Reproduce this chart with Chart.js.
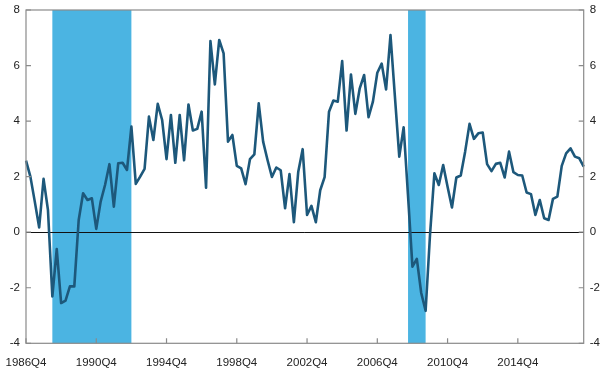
<!DOCTYPE html>
<html>
<head>
<meta charset="utf-8">
<script src="https://cdn.jsdelivr.net/npm/chart.js@4/dist/chart.umd.min.js"></script>
<style>
  body { margin: 0; background: #fff; }
  #wrap { width: 608px; height: 375px; }
</style>
</head>
<body>
<div id="wrap"><canvas id="growthChart"></canvas></div>
<script>
// quarterly values, 1986Q4 onwards
const growth = [
    2.58, 2.0, 1.1, 0.17, 1.92, 0.8, -2.31, -0.61, -2.55, -2.46,
    -1.95, -1.95, 0.44, 1.4, 1.16, 1.22, 0.12, 1.1, 1.7, 2.45,
    0.92, 2.48, 2.5, 2.24, 3.8, 1.74, 2.0, 2.28, 4.16, 3.32,
    4.62, 4.04, 2.63, 4.22, 2.5, 4.22, 2.59, 4.6, 3.66, 3.72,
    4.34, 1.6, 6.88, 5.32, 6.92, 6.44, 3.26, 3.5, 2.39, 2.3,
    1.73, 2.63, 2.8, 4.64, 3.26, 2.6, 1.99, 2.33, 2.23, 0.86,
    2.09, 0.36, 2.18, 2.99, 0.62, 0.95, 0.36, 1.51, 1.98, 4.34,
    4.74, 4.7, 6.16, 3.66, 5.68, 4.26, 5.18, 5.66, 4.14, 4.7,
    5.74, 6.07, 5.14, 7.1, 4.9, 2.72, 3.78, 1.3, -1.24, -0.96,
    -2.19, -2.83, -0.1, 2.12, 1.7, 2.42, 1.64, 0.89, 1.97, 2.04,
    2.9, 3.9, 3.36, 3.56, 3.59, 2.45, 2.2, 2.46, 2.5, 1.97,
    2.9, 2.16, 2.06, 2.04, 1.43, 1.37, 0.62, 1.16, 0.5, 0.44,
    1.2, 1.28, 2.39, 2.84, 3.02, 2.72, 2.66, 2.36
];

const firstYear = 1986;
const firstQuarter = 4;
const quarters = growth.map((_, i) => {
    const q = firstQuarter - 1 + i;
    return (firstYear + Math.floor(q / 4)) + 'Q' + (q % 4 + 1);
});

const xTickLabels = ['1986Q4', '1990Q4', '1994Q4', '1998Q4', '2002Q4', '2006Q4', '2010Q4', '2014Q4'];
const yTicks = [-4, -2, 0, 2, 4, 6, 8];

// shaded periods (start, end)
const recessions = [['1988Q2', '1992Q4'], ['2008Q3', '2009Q3']];

const bandColor = '#4bb4e2';
const lineColor = '#1d587b';
const frameColor = '#8a8a8a';
const fontSpec = { family: '"Liberation Sans", Arial, sans-serif', size: 11.5 };

// bands, zero line, frame and inward tick marks
const decorations = {
    id: 'decorations',
    beforeDatasetsDraw(chart) {
        const { ctx, chartArea: a, scales } = chart;
        ctx.save();
        ctx.fillStyle = bandColor;
        recessions.forEach(([from, to]) => {
            const x0 = scales.x.getPixelForValue(quarters.indexOf(from));
            const x1 = scales.x.getPixelForValue(quarters.indexOf(to));
            ctx.fillRect(x0, a.top, x1 - x0, a.bottom - a.top);
        });
        const y0 = Math.round(scales.y.getPixelForValue(0)) + 0.5;
        ctx.strokeStyle = '#111';
        ctx.lineWidth = 1;
        ctx.beginPath();
        ctx.moveTo(a.left, y0);
        ctx.lineTo(a.right, y0);
        ctx.stroke();
        ctx.restore();
    },
    afterDatasetsDraw(chart) {
        const { ctx, chartArea: a, scales } = chart;
        const len = 5;
        ctx.save();
        ctx.strokeStyle = frameColor;
        ctx.lineWidth = 1.2;
        ctx.strokeRect(a.left, a.top, a.right - a.left, a.bottom - a.top);
        ctx.beginPath();
        yTicks.forEach(v => {
            const py = scales.y.getPixelForValue(v);
            ctx.moveTo(a.left, py);
            ctx.lineTo(a.left + len, py);
            const py2 = scales.y2.getPixelForValue(v);
            ctx.moveTo(a.right, py2);
            ctx.lineTo(a.right - len, py2);
        });
        xTickLabels.forEach(l => {
            const px = scales.x.getPixelForValue(quarters.indexOf(l));
            ctx.moveTo(px, a.bottom);
            ctx.lineTo(px, a.bottom - len);
        });
        ctx.stroke();
        ctx.restore();
    }
};

const yAxis = (position, width) => ({
    type: 'linear',
    position: position,
    display: true,
    min: -4,
    max: 8,
    grid: { display: false, drawTicks: false },
    border: { display: false },
    ticks: { stepSize: 2, padding: 6, color: '#222', font: fontSpec },
    afterFit: s => { s.width = width; s.paddingTop = 0; s.paddingBottom = 0; }
});

new Chart(document.getElementById('growthChart'), {
    type: 'line',
    data: {
        labels: quarters,
        datasets: [{
            data: growth,
            yAxisID: 'y',
            borderColor: lineColor,
            borderWidth: 2.6,
            pointRadius: 0,
            tension: 0,
            borderJoinStyle: 'round'
        }]
    },
    options: {
        responsive: true,
        maintainAspectRatio: false,
        animation: false,
        layout: { autoPadding: false, padding: { top: 10, left: 0, right: 0, bottom: 0 } },
        plugins: { legend: { display: false }, tooltip: { enabled: false } },
        scales: {
            x: {
                type: 'category',
                offset: false,
                grid: { display: false, drawTicks: false },
                border: { display: false },
                ticks: {
                    autoSkip: false,
                    maxRotation: 0,
                    padding: 13,
                    color: '#222',
                    font: fontSpec,
                    callback: function (value) {
                        const l = this.getLabelForValue(value);
                        return xTickLabels.includes(l) ? l : null;
                    }
                },
                afterFit: s => { s.height = 31.7; s.paddingLeft = 0; s.paddingRight = 0; }
            },
            y: yAxis('left', 26),
            y2: yAxis('right', 24.3)
        }
    },
    plugins: [decorations]
});
</script>
</body>
</html>
